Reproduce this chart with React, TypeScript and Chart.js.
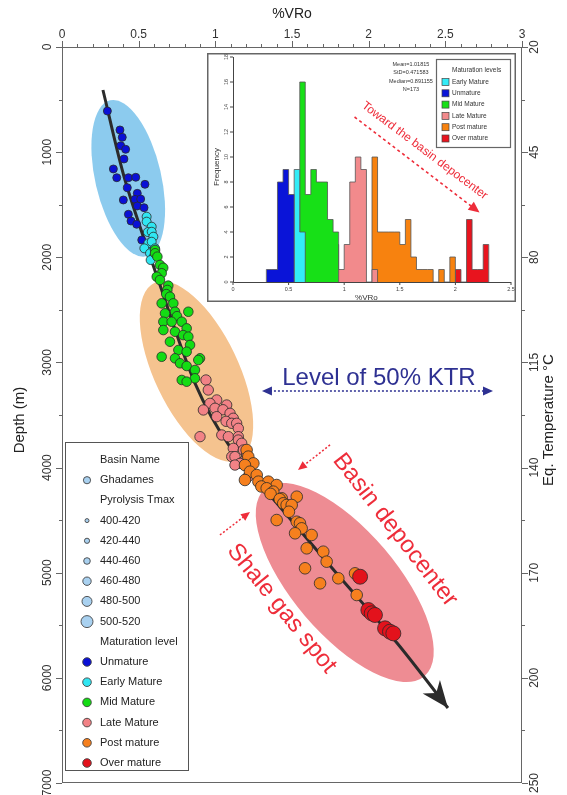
import React, { useEffect, useRef } from 'react';
import { Chart, registerables } from 'chart.js';
Chart.register(...registerables);

const FONT = '"Liberation Sans", Arial, Helvetica, sans-serif';

// ---------- main axes ----------
const vroTicks = [0, 0.5, 1, 1.5, 2, 2.5, 3];
const depthTicks = [0, 1000, 2000, 3000, 4000, 5000, 6000, 7000];
const tempLabels = ['20', '45', '80', '115', '140', '170', '200', '250'];

// ---------- main scatter data: [%VRo, depth m] ----------
const unmaturePts = [
  [0.296, 609], [0.378, 789], [0.393, 859], [0.383, 939], [0.415, 973], [0.404, 1065],
  [0.335, 1160], [0.357, 1243], [0.433, 1243], [0.481, 1239], [0.541, 1306], [0.426, 1338],
  [0.491, 1392], [0.400, 1455], [0.476, 1449], [0.513, 1446], [0.491, 1512], [0.535, 1528],
  [0.433, 1591], [0.450, 1655], [0.487, 1686], [0.520, 1836],
];
const earlyMaturePts = [
  [0.552, 1614], [0.552, 1661], [0.585, 1709], [0.560, 1760], [0.585, 1757], [0.596, 1804],
  [0.563, 1867], [0.585, 1852], [0.537, 1915], [0.607, 1915], [0.574, 1962], [0.600, 1990],
  [0.578, 2026],
];
const midMaturePts = [
  [0.607, 1931], [0.607, 1962], [0.622, 1994], [0.639, 2073], [0.660, 2100], [0.650, 2152],
  [0.618, 2185], [0.639, 2216], [0.693, 2270], [0.687, 2311], [0.680, 2350], [0.704, 2375],
  [0.650, 2438], [0.726, 2438], [0.824, 2518], [0.737, 2518], [0.672, 2533], [0.750, 2560],
  [0.661, 2613], [0.715, 2613], [0.781, 2613], [0.813, 2676], [0.661, 2692], [0.737, 2708],
  [0.790, 2740], [0.824, 2755], [0.704, 2803], [0.835, 2834], [0.759, 2882], [0.813, 2898],
  [0.650, 2946], [0.737, 2961], [0.900, 2961], [0.889, 2977], [0.770, 3008], [0.813, 3034],
  [0.867, 3072], [0.867, 3151], [0.781, 3167], [0.813, 3183],
];
const lateMaturePts = [
  [0.939, 3167], [0.954, 3262], [1.009, 3357], [0.965, 3389], [1.074, 3405], [0.998, 3436],
  [0.922, 3452], [1.050, 3450], [1.096, 3484], [1.009, 3516], [1.117, 3531], [1.070, 3560],
  [1.107, 3579], [1.139, 3579], [1.150, 3627], [1.042, 3690], [0.900, 3706], [1.085, 3706],
  [1.150, 3706], [1.150, 3738], [1.172, 3769], [1.117, 3817], [1.183, 3833], [1.107, 3896],
  [1.128, 3896], [1.204, 3880], [1.183, 3944], [1.161, 3960], [1.128, 3976], [1.213, 4087],
];
const postMaturePts = [
  [1.204, 3833], [1.215, 3896], [1.248, 3960], [1.193, 3976], [1.226, 4039], [1.270, 4071],
  [1.193, 4118], [1.281, 4134], [1.346, 4134], [1.400, 4166], [1.300, 4180], [1.335, 4197],
  [1.378, 4229], [1.360, 4250], [1.531, 4277], [1.433, 4292], [1.420, 4300], [1.443, 4340],
  [1.465, 4356], [1.498, 4356], [1.480, 4420], [1.400, 4499], [1.531, 4515], [1.552, 4530],
  [1.563, 4578], [1.520, 4625], [1.628, 4641], [1.596, 4768], [1.704, 4800], [1.726, 4895],
  [1.585, 4958], [1.911, 5006], [1.802, 5053], [1.683, 5101], [1.922, 5212],
];
const overMaturePts = [
  [1.944, 5038], [1.998, 5355], [2.020, 5386], [2.041, 5402], [2.107, 5529], [2.139, 5561],
  [2.161, 5577],
];
const trendLine = [
  [0.267, 409], [0.411, 1265], [0.639, 2264], [0.867, 3196], [1.096, 3804],
  [1.422, 4375], [1.800, 5022], [2.185, 5669], [2.517, 6287],
];

// ---------- legend content ----------
const basinNames = ['Ghadames'];
const tmaxClasses = ['400-420', '420-440', '440-460', '460-480', '480-500', '500-520'];
const maturationLevels = ['Unmature', 'Early Mature', 'Mid Mature', 'Late Mature', 'Post mature', 'Over mature'];

// ---------- inset histogram: [bin start %VRo, frequency] ----------
const histBinWidth = 0.05;
const histUnmature = [[0.30, 1], [0.35, 1], [0.40, 8], [0.45, 9], [0.50, 7]];
const histEarly = [[0.55, 9], [0.60, 4]];
const histMid = [[0.60, 16], [0.65, 7], [0.70, 9], [0.75, 8], [0.80, 8], [0.85, 5], [0.90, 4]];
const histLate = [[0.90, 3], [0.95, 1], [1.00, 3], [1.05, 8], [1.10, 10], [1.15, 9], [1.20, 0], [1.25, 1]];
const histPost = [
  [1.25, 10], [1.30, 4], [1.35, 4], [1.40, 4], [1.45, 4], [1.50, 3], [1.55, 5], [1.60, 2],
  [1.65, 1], [1.70, 1], [1.75, 1], [1.80, 0], [1.85, 1], [1.90, 0], [1.95, 2],
];
const histOver = [[2.00, 1], [2.05, 0], [2.10, 5], [2.15, 1], [2.20, 1], [2.25, 3]];
const histXTicks = [0, 0.5, 1, 1.5, 2, 2.5];
const histYTicks = [0, 2, 4, 6, 8, 10, 12, 14, 16, 18];
const histStats = ['Mean=1.01815', 'StD=0.471583', 'Median=0.891155', 'N=173'];
const insetLegendOrder = ['Early Mature', 'Unmature', 'Mid Mature', 'Late Mature', 'Post mature', 'Over mature'];

// ---------- styles ----------
const levelStyle: Record<string, { color: string; r: number }> = {
  'Unmature': { color: '#0a10d6', r: 4 },
  'Early Mature': { color: '#30e6f2', r: 4.5 },
  'Mid Mature': { color: '#14dc14', r: 4.8 },
  'Late Mature': { color: '#f28286', r: 5.2 },
  'Post mature': { color: '#f6801e', r: 5.8 },
  'Over mature': { color: '#e3121c', r: 7.5 },
};
const histColors: Record<string, string> = {
  'Unmature': '#0a14d8', 'Early Mature': '#33ecf7', 'Mid Mature': '#17e017',
  'Late Mature': '#f28a8c', 'Post mature': '#f7820f', 'Over mature': '#e8141e',
};

const ellipses = [
  { vro: 0.432, depth: 1249, rMinor: 33, rMajor: 80, tilt: 13, color: '#8ccbee' },
  { vro: 0.877, depth: 3086, rMinor: 42, rMajor: 98, tilt: 25.5, color: '#f5c38f' },
  { vro: 1.844, depth: 5093, rMinor: 52, rMajor: 123, tilt: 40.4, color: '#ee8c93' },
];

function arrowHead(ctx: CanvasRenderingContext2D, x1: number, y1: number, x2: number, y2: number,
  len: number, halfW: number, color: string, notch = 0) {
  const ang = Math.atan2(y2 - y1, x2 - x1);
  ctx.save();
  ctx.translate(x2, y2);
  ctx.rotate(ang);
  ctx.beginPath();
  ctx.moveTo(0, 0);
  ctx.lineTo(-len, -halfW);
  ctx.lineTo(-len + notch, 0);
  ctx.lineTo(-len, halfW);
  ctx.closePath();
  ctx.fillStyle = color;
  ctx.fill();
  ctx.restore();
}

function dottedArrow(ctx: CanvasRenderingContext2D, x1: number, y1: number, x2: number, y2: number,
  color: string, both: boolean, dash: number[], lw: number, hl: number, hw: number) {
  ctx.save();
  ctx.strokeStyle = color;
  ctx.lineWidth = lw;
  ctx.setLineDash(dash);
  const ang = Math.atan2(y2 - y1, x2 - x1);
  const sx = both ? x1 + Math.cos(ang) * hl * 0.8 : x1;
  const sy = both ? y1 + Math.sin(ang) * hl * 0.8 : y1;
  ctx.beginPath();
  ctx.moveTo(sx, sy);
  ctx.lineTo(x2 - Math.cos(ang) * hl * 0.8, y2 - Math.sin(ang) * hl * 0.8);
  ctx.stroke();
  ctx.restore();
  arrowHead(ctx, x1, y1, x2, y2, hl, hw, color);
  if (both) arrowHead(ctx, x2, y2, x1, y1, hl, hw, color);
}

function rotText(ctx: CanvasRenderingContext2D, text: string, x: number, y: number, deg: number,
  font: string, color: string) {
  ctx.save();
  ctx.translate(x, y);
  ctx.rotate((deg * Math.PI) / 180);
  ctx.font = font;
  ctx.fillStyle = color;
  ctx.textAlign = 'center';
  ctx.textBaseline = 'middle';
  ctx.fillText(text, 0, 0);
  ctx.restore();
}

const mainDecor = {
  id: 'mainDecor',
  beforeDatasetsDraw(chart: any) {
    const { ctx, scales } = chart;
    const X = (v: number) => scales.x.getPixelForValue(v);
    const Y = (v: number) => scales.y.getPixelForValue(v);
    ellipses.forEach((e) => {
      ctx.save();
      ctx.beginPath();
      ctx.ellipse(X(e.vro), Y(e.depth), e.rMinor, e.rMajor, (-e.tilt * Math.PI) / 180, 0, Math.PI * 2);
      ctx.fillStyle = e.color;
      ctx.fill();
      ctx.restore();
    });
  },
  afterDatasetsDraw(chart: any) {
    const { ctx, scales } = chart;
    const X = (v: number) => scales.x.getPixelForValue(v);
    const Y = (v: number) => scales.y.getPixelForValue(v);
    const n = trendLine.length;
    arrowHead(ctx, X(trendLine[n - 2][0]), Y(trendLine[n - 2][1]), X(trendLine[n - 1][0]), Y(trendLine[n - 1][1]),
      27, 11, '#2b2b2b', 8);

    // KTR
    const navy = '#2e3192';
    dottedArrow(ctx, X(1.304), Y(3272), X(2.811), Y(3272), navy, true, [2, 2], 1.5, 10, 4.5);
    rotText(ctx, 'Level of 50% KTR', X(2.067), Y(3148), 0, `24px ${FONT}`, navy);

    const red = '#ee2d3a';
    rotText(ctx, 'Basin depocenter', X(2.172), Y(4594), 52, `24px ${FONT}`, red);
    rotText(ctx, 'Shale gas spot', X(1.432), Y(5340), 51, `24px ${FONT}`, red);
    dottedArrow(ctx, X(1.748), Y(3785), X(1.539), Y(4023), red, false, [2, 2], 1.5, 9, 4);
    dottedArrow(ctx, X(1.030), Y(4641), X(1.226), Y(4423), red, false, [2, 2], 1.5, 9, 4);
  },
  afterDraw(chart: any) {
    const { ctx, chartArea: ca, scales } = chart;
    const X = (v: number) => scales.x.getPixelForValue(v);
    const Y = (v: number) => scales.y.getPixelForValue(v);
    ctx.save();
    ctx.strokeStyle = '#666';
    ctx.lineWidth = 1;
    ctx.strokeRect(ca.left + 0.5, ca.top + 0.5, ca.right - ca.left - 1, ca.bottom - ca.top - 1);
    ctx.beginPath();
    // top ticks
    for (let i = 0; i <= 30; i++) {
      const px = Math.round(X(i / 10)) + 0.5;
      const major = i % 5 === 0;
      ctx.moveTo(px, ca.top);
      ctx.lineTo(px, ca.top - (major ? 6 : 3));
    }
    // left / right ticks
    for (let i = 0; i <= 14; i++) {
      const py = Math.round(Y(i * 500)) + 0.5;
      const major = i % 2 === 0;
      ctx.moveTo(ca.left, py);
      ctx.lineTo(ca.left - (major ? 6 : 3), py);
      ctx.moveTo(ca.right, py);
      ctx.lineTo(ca.right + (major ? 6 : 3), py);
    }
    ctx.stroke();
    ctx.fillStyle = '#333';
    ctx.font = `12px ${FONT}`;
    ctx.textAlign = 'center';
    ctx.textBaseline = 'middle';
    vroTicks.forEach((v) => ctx.fillText(String(v), X(v), ca.top - 12));
    depthTicks.forEach((d) => rotText(ctx, String(d), ca.left - 14, Y(d), -90, `12px ${FONT}`, '#333'));
    depthTicks.forEach((d, i) => rotText(ctx, tempLabels[i], ca.right + 13, Y(d), -90, `12px ${FONT}`, '#333'));
    ctx.fillStyle = '#222';
    ctx.font = `14px ${FONT}`;
    ctx.fillText('%VRo', (ca.left + ca.right) / 2, 14);
    const midY = (ca.top + ca.bottom) / 2 + 5;
    rotText(ctx, 'Depth (m)', 20, midY, -90, `15px ${FONT}`, '#222');
    rotText(ctx, 'Eq. Temperature °C', 549, midY, -90, `15px ${FONT}`, '#222');

    // legend box
    const lx = ca.left + 3, ly = 442, lw = 123, lh = 328;
    ctx.fillStyle = '#fff';
    ctx.fillRect(lx, ly, lw, lh);
    ctx.strokeStyle = '#555';
    ctx.strokeRect(lx + 0.5, ly + 0.5, lw, lh);
    const tmaxR = [2, 2.6, 3.3, 4.2, 5, 6];
    const rows: any[] = [];
    rows.push({ header: 'Basin Name' });
    basinNames.forEach((t) => rows.push({ text: t, r: 3.6, color: '#a9d1f0' }));
    rows.push({ header: 'Pyrolysis Tmax' });
    tmaxClasses.forEach((t, i) => rows.push({ text: t, r: tmaxR[i], color: '#a9d1f0' }));
    rows.push({ header: 'Maturation level' });
    maturationLevels.forEach((t) => rows.push({ text: t, r: 4.3, color: levelStyle[t].color }));
    ctx.font = `11px ${FONT}`;
    ctx.textAlign = 'left';
    rows.forEach((row, i) => {
      const ry = ly + 18 + i * 20.2;
      ctx.fillStyle = '#222';
      if (row.header) {
        ctx.fillText(row.header, lx + 35, ry);
      } else {
        ctx.fillText(row.text, lx + 35, ry);
        ctx.beginPath();
        ctx.arc(lx + 22, ry, row.r, 0, Math.PI * 2);
        ctx.fillStyle = row.color;
        ctx.fill();
        ctx.lineWidth = 0.9;
        ctx.strokeStyle = '#444';
        ctx.stroke();
      }
    });
    ctx.restore();
  },
};

const pts = (a: number[][]) => a.map(([x, y]) => ({ x, y }));

function mainConfig(): any {
  const groups: [string, number[][]][] = [
    ['Unmature', unmaturePts], ['Early Mature', earlyMaturePts], ['Mid Mature', midMaturePts],
    ['Late Mature', lateMaturePts], ['Post mature', postMaturePts], ['Over mature', overMaturePts],
  ];
  const datasets: any[] = groups.map(([name, arr], i) => ({
    label: name,
    data: pts(arr),
    backgroundColor: levelStyle[name].color,
    borderColor: '#2a2a2a',
    borderWidth: 0.8,
    pointRadius: levelStyle[name].r,
    order: 6 - i,
  }));
  datasets.push({
    label: 'trend',
    data: pts(trendLine),
    showLine: true,
    borderColor: '#2b2b2b',
    borderWidth: 3,
    pointRadius: 0,
    tension: 0.3,
    order: 20,
  });
  const hidden = { display: false };
  return {
    type: 'scatter',
    data: { datasets },
    options: {
      responsive: false,
      maintainAspectRatio: false,
      animation: false,
      layout: { padding: { left: 0, right: 0, top: 0, bottom: 12 } },
      plugins: { legend: hidden, tooltip: { enabled: false }, title: hidden },
      scales: {
        x: {
          type: 'linear', position: 'top', min: 0, max: 3,
          ticks: { display: false, stepSize: 0.5 }, grid: hidden, border: hidden,
          afterFit: (s: any) => { s.height = 47; },
        },
        y: {
          type: 'linear', position: 'left', reverse: true, min: 0, max: 7000,
          ticks: { display: false, stepSize: 1000 }, grid: hidden, border: hidden,
          afterFit: (s: any) => { s.width = 62; },
        },
        y2: {
          type: 'linear', position: 'right', reverse: true, min: 0, max: 7000,
          ticks: { display: false, stepSize: 1000 }, grid: hidden, border: hidden,
          afterFit: (s: any) => { s.width = 45; },
        },
      },
    },
    plugins: [mainDecor],
  };
}

const insetDecor = {
  id: 'insetDecor',
  beforeDraw(chart: any) {
    const { ctx, width, height } = chart;
    ctx.save();
    ctx.fillStyle = '#fff';
    ctx.fillRect(0, 0, width, height);
    ctx.restore();
  },
  afterDraw(chart: any) {
    const { ctx, chartArea: ca, scales, width, height } = chart;
    const X = (v: number) => scales.x.getPixelForValue(v);
    const Y = (v: number) => scales.y.getPixelForValue(v);
    ctx.save();
    // axes
    ctx.strokeStyle = '#444';
    ctx.lineWidth = 1;
    ctx.beginPath();
    ctx.moveTo(ca.left + 0.5, ca.top);
    ctx.lineTo(ca.left + 0.5, ca.bottom + 0.5);
    ctx.lineTo(ca.right, ca.bottom + 0.5);
    histXTicks.forEach((v) => { ctx.moveTo(X(v), ca.bottom); ctx.lineTo(X(v), ca.bottom + 3); });
    histYTicks.forEach((v) => { ctx.moveTo(ca.left, Y(v)); ctx.lineTo(ca.left - 3, Y(v)); });
    ctx.stroke();
    ctx.fillStyle = '#444';
    ctx.font = `5.5px ${FONT}`;
    ctx.textAlign = 'center';
    ctx.textBaseline = 'middle';
    histXTicks.forEach((v) => ctx.fillText(String(v), X(v), ca.bottom + 7));
    histYTicks.forEach((v) => rotText(ctx, String(v), ca.left - 7, Y(v), -90, `5.5px ${FONT}`, '#444'));
    ctx.fillStyle = '#333';
    ctx.font = `8px ${FONT}`;
    ctx.fillText('%VRo', X(1.2), ca.bottom + 16);
    rotText(ctx, 'Frequency', 10, Y(9.2), -90, `8px ${FONT}`, '#333');

    // stats
    ctx.font = `5.5px ${FONT}`;
    ctx.fillStyle = '#333';
    histStats.forEach((t, i) => ctx.fillText(t, X(1.6), Y(17.4) + i * 8.4));

    // legend
    const gx = 229, gy = 6, gw = 74, gh = 88;
    ctx.fillStyle = '#fff';
    ctx.fillRect(gx, gy, gw, gh);
    ctx.strokeStyle = '#666';
    ctx.lineWidth = 1.2;
    ctx.strokeRect(gx + 0.5, gy + 0.5, gw, gh);
    ctx.textAlign = 'left';
    ctx.font = `6.5px ${FONT}`;
    ctx.fillStyle = '#333';
    ctx.fillText('Maturation levels', gx + 16, gy + 11);
    insetLegendOrder.forEach((name, i) => {
      const yy = gy + 23 + i * 11.3;
      ctx.fillStyle = histColors[name];
      ctx.fillRect(gx + 6, yy - 3.5, 7, 7);
      ctx.strokeStyle = '#444';
      ctx.lineWidth = 0.7;
      ctx.strokeRect(gx + 6, yy - 3.5, 7, 7);
      ctx.fillStyle = '#333';
      ctx.fillText(name, gx + 16, yy);
    });

    // red dashed arrow + text
    const red = '#ee2d3a';
    dottedArrow(ctx, X(1.093), Y(13.2), X(2.217), Y(5.56), red, false, [3, 3], 1.6, 11, 5);
    rotText(ctx, 'Toward the basin depocenter', X(1.724), Y(10.5), 37, `12px ${FONT}`, red);

    // frame
    ctx.strokeStyle = '#666';
    ctx.lineWidth = 1.5;
    ctx.strokeRect(0.75, 0.75, width - 1.5, height - 1.5);
    ctx.restore();
  },
};

function stepPoints(bins: number[][]) {
  const out = [{ x: bins[0][0], y: 0 }];
  bins.forEach(([x, y]) => out.push({ x, y }));
  out.push({ x: bins[bins.length - 1][0] + histBinWidth, y: 0 });
  return out;
}

function insetConfig(): any {
  const series: [string, number[][]][] = [
    ['Unmature', histUnmature], ['Early Mature', histEarly], ['Mid Mature', histMid],
    ['Late Mature', histLate], ['Post mature', histPost], ['Over mature', histOver],
  ];
  const hidden = { display: false };
  return {
    type: 'line',
    data: {
      datasets: series.map(([name, bins], i) => ({
        label: name,
        data: stepPoints(bins),
        stepped: 'before',
        fill: 'origin',
        backgroundColor: histColors[name],
        borderColor: '#555',
        borderWidth: 0.8,
        pointRadius: 0,
        order: i,
      })),
    },
    options: {
      responsive: false,
      maintainAspectRatio: false,
      animation: false,
      layout: { padding: { left: 0, right: 5, top: 4, bottom: 0 } },
      plugins: { legend: hidden, tooltip: { enabled: false }, title: hidden },
      scales: {
        x: {
          type: 'linear', position: 'bottom', min: 0, max: 2.5,
          ticks: { display: false }, grid: hidden, border: hidden,
          afterFit: (s: any) => { s.height = 20; },
        },
        y: {
          type: 'linear', position: 'left', min: 0, max: 18,
          ticks: { display: false }, grid: hidden, border: hidden,
          afterFit: (s: any) => { s.width = 26; },
        },
      },
    },
    plugins: [insetDecor],
  };
}

export default function App() {
  const mainRef = useRef<HTMLCanvasElement>(null);
  const insetRef = useRef<HTMLCanvasElement>(null);
  useEffect(() => {
    const main = new Chart(mainRef.current as HTMLCanvasElement, mainConfig());
    const inset = new Chart(insetRef.current as HTMLCanvasElement, insetConfig());
    return () => {
      main.destroy();
      inset.destroy();
    };
  }, []);
  return (
    <div style={{ position: 'absolute', left: 0, top: 0, width: 567, height: 795, background: '#fff' }}>
      <canvas ref={mainRef} width={567} height={795}
        style={{ position: 'absolute', left: 0, top: 0, width: 567, height: 795 }} />
      <div style={{ position: 'absolute', left: 207, top: 53, width: 309, height: 249 }}>
        <canvas ref={insetRef} width={309} height={249} style={{ width: 309, height: 249 }} />
      </div>
    </div>
  );
}
